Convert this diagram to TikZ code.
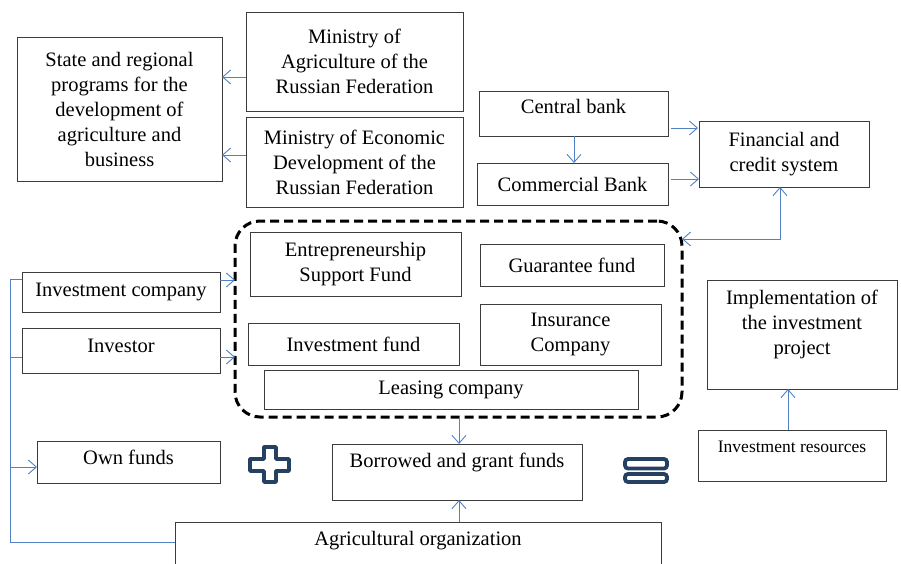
\documentclass[tikz,border=0pt]{standalone}
\usepackage{fontspec}
\setmainfont{Liberation Serif}
\usetikzlibrary{arrows.meta}
\definecolor{lnblue}{RGB}{80,130,195}
\definecolor{navy}{RGB}{38,64,97}
\definecolor{bord}{RGB}{60,60,60}
\newcommand\liftt[2]{\raisebox{#1}[\height][\depth]{\begin{tabular}{@{}c@{}}#2\end{tabular}}}
\begin{document}
\begin{tikzpicture}[x=1pt,y=-1pt,
 box/.style={draw=bord, line width=0.9pt, inner sep=0pt, outer sep=0pt, align=center, font=\fontsize{20.5}{25}\selectfont},
 arr/.style={draw=lnblue, line width=0.9pt, -{Straight Barb[length=8pt,width=14pt]}},
 barr/.style={draw=lnblue, line width=0.9pt, {Straight Barb[length=8pt,width=14pt]}-{Straight Barb[length=8pt,width=14pt]}},
 ln/.style={draw=lnblue, line width=0.9pt},
 grpbox/.style={draw=black, line width=3pt, dash pattern=on 9pt off 5pt, rounded corners=25pt, inner sep=0pt, outer sep=0pt}]
\useasboundingbox (0,0) rectangle (901,564);
\clip (0,0) rectangle (901,564);
\fill[white] (0,0) rectangle (901,564);

\node[box, minimum width=205pt, minimum height=144pt] (state) at (119.5,109) {State and regional\\programs for the\\development of\\agriculture and\\business};
\node[box, minimum width=217pt, minimum height=99pt] (minagr) at (354.5,61.5) {Ministry of\\Agriculture of the\\Russian Federation};
\node[box, minimum width=217pt, minimum height=90pt] (minecon) at (354.5,162) {Ministry of Economic\\Development of the\\Russian Federation};
\node[box, minimum width=189pt, minimum height=45pt] (central) at (573.5,113.5) {\liftt{5pt}{Central bank}};
\node[box, minimum width=191pt, minimum height=42pt] (commercial) at (572.5,184) {Commercial Bank};
\node[box, minimum width=170pt, minimum height=66pt] (fin) at (784,154) {Financial and\\credit system};
\node[grpbox, minimum width=447pt, minimum height=196pt] (grp) at (458.5,319) {};
\node[box, minimum width=211pt, minimum height=64pt] (entre) at (355.5,264) {Entrepreneurship\\Support Fund};
\node[box, minimum width=184pt, minimum height=42pt] (guar) at (572,265) {Guarantee fund};
\node[box, minimum width=211pt, minimum height=42pt] (invfund) at (353.5,344) {Investment fund};
\node[box, minimum width=181pt, minimum height=61pt] (insur) at (570.5,334.5) {Insurance\\Company};
\node[box, minimum width=374pt, minimum height=39pt] (leasing) at (451,389.5) {Leasing company};
\node[box, minimum width=198pt, minimum height=40pt] (invco) at (121,292) {Investment company};
\node[box, minimum width=198pt, minimum height=45pt] (investor) at (121,350.5) {\liftt{3pt}{Investor}};
\node[box, minimum width=183pt, minimum height=42pt] (own) at (128.5,462) {\liftt{3pt}{Own funds}};
\node[box, minimum width=250pt, minimum height=56pt] (borrowed) at (457,472) {\liftt{10pt}{Borrowed and grant funds}};
\node[box, minimum width=486pt, minimum height=60pt] (agri) at (418,552) {\liftt{12pt}{Agricultural organization}};
\node[box, minimum width=190pt, minimum height=109pt] (impl) at (802,334.5) {\liftt{10pt}{Implementation of\\the investment\\project}};
\node[box, minimum width=188pt, minimum height=51pt, font=\fontsize{17.5}{22}\selectfont] (invres) at (792,455.5) {\liftt{7pt}{Investment resources}};

% plus and equals signs
\draw[navy, line width=3.8pt, line join=round] (264,447) -- (276,447) -- (276,459) -- (289,459) -- (289,471) -- (276,471) -- (276,482) -- (264,482) -- (264,471) -- (250,471) -- (250,459) -- (264,459) -- cycle;
\draw[navy, line width=3.8pt, rounded corners=3pt] (625,459) rectangle (667,468.5);
\draw[navy, line width=3.8pt, rounded corners=3pt] (625,474) rectangle (667,482);

% connectors
\draw[arr] (minagr.west |- 0,77) -- (state.east |- 0,77);
\draw[arr] (minecon.west |- 0,155) -- (state.east |- 0,155);
\draw[arr, shorten <=3pt, shorten >=1pt] (central.east |- 0,128) -- (fin.west |- 0,128);
\draw[arr, shorten <=3pt] (commercial.east |- 0,179) -- (fin.west |- 0,179);
\draw[arr] (central.south -| 574,0) -- (commercial.north -| 574,0);
\draw[barr] (grp.east |- 0,239) -| (fin.south -| 780,0);
\draw[arr] (invco.east |- 0,280) -- (grp.west |- 0,280);
\draw[arr] (investor.east |- 0,357) -- (grp.west |- 0,357);
\draw[arr] (grp.south -| 459,0) -- (borrowed.north -| 459,0);
\draw[arr] (agri.north -| 459,0) -- (borrowed.south -| 459,0);
\draw[arr] (invres.north -| 788,0) -- (impl.south -| 788,0);

% left bus
\coordinate (bt) at (10,279);
\coordinate (bb) at (10,542);
\draw[ln] (invco.west |- bt) -- (bt) -- (bb) -- (agri.west |- bb);
\draw[ln] (bt |- 0,357) -- (investor.west |- 0,357);
\draw[arr] (bt |- 0,467) -- (own.west |- 0,467);
\end{tikzpicture}
\end{document}
